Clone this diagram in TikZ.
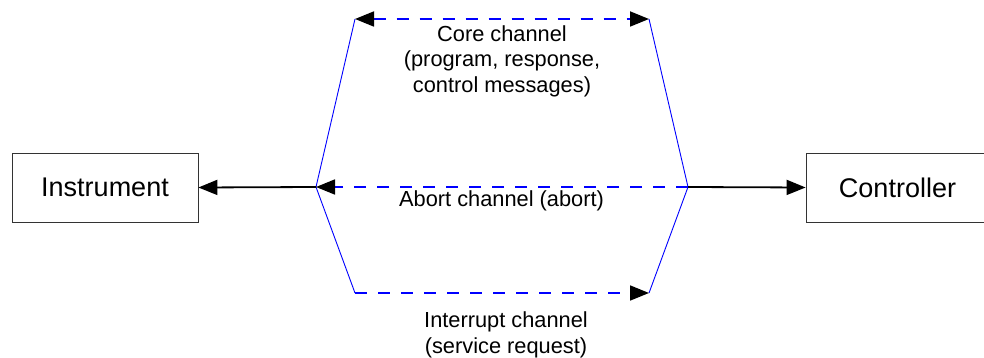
\documentclass[tikz,border=0pt]{standalone}
\usepackage{fontspec}
\setmainfont{Liberation Sans}
\usetikzlibrary{arrows.meta}
\definecolor{chanblue}{RGB}{0,0,255}
\begin{document}
\begin{tikzpicture}[x=1pt,y=-1pt,
  boxnode/.style={draw=black!80,line width=0.8pt,minimum width=186pt,minimum height=69pt,inner sep=0pt,font=\fontsize{27}{30}\selectfont},
  chanlabel/.style={align=center,inner sep=0pt,font=\fontsize{21.8}{25.5}\selectfont},
  tip/.style={-{Triangle[length=19pt,width=15pt,black]}},
  bothtips/.style={{Triangle[length=19pt,width=15pt,black]}-{Triangle[length=19pt,width=15pt,black]}},
  chan/.style={draw=chanblue,line width=1.8pt,dash pattern=on 12pt off 11pt},
  side/.style={draw=chanblue,line width=0.9pt},
  link/.style={draw=black,line width=1.8pt}]
\useasboundingbox (0,0) rectangle (984,358);
\begin{scope}
\clip (0,0) rectangle (984,358);
\node[boxnode] (instr) at (105,187.5) {Instrument};
\node[boxnode,minimum width=183pt] (ctrl) at (897.5,187.5) {Controller};
\end{scope}
\coordinate (L) at (316,187);
\coordinate (R) at (688,187);
\coordinate (TL) at (355,19);
\coordinate (TR) at (649,19);
\coordinate (BL) at (355,293);
\coordinate (BR) at (649,293);
% side lines
\draw[side] (TL) -- (L) -- (BL);
\draw[side] (TR) -- (R) -- (BR);
% channels
\draw[chan,bothtips] (TL) -- (TR);
\draw[chan,tip] (R) -- (L);
\draw[chan,tip] (BL) -- (BR);
% links to boxes
\draw[link,tip] (L) -- (instr.east);
\draw[link,tip] (R) -- (ctrl.west);
% labels
\node[chanlabel] (core) at (502,61) {Core channel\\(program, response,\\control messages)};
\node[chanlabel] (abort) at (501.5,201) {Abort channel (abort)};
\node[chanlabel] (intr) at (506,335) {Interrupt channel\\(service request)};
\end{tikzpicture}
\end{document}
